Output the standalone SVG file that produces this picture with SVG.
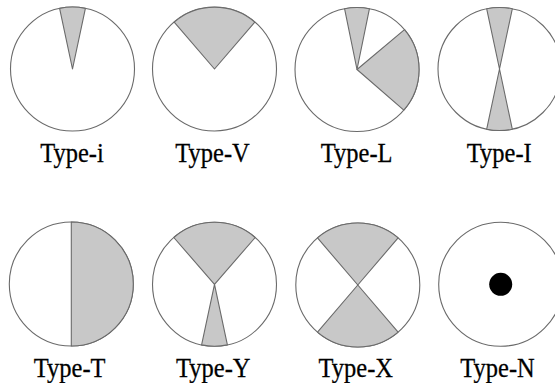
<svg xmlns="http://www.w3.org/2000/svg" width="555" height="383" viewBox="0 0 555 383">
<style>
.c{fill:#fff;stroke:#6a6a6a;stroke-width:1.1}
.w{fill:#c8c8c8;stroke:#6a6a6a;stroke-width:1.1;stroke-linejoin:round}
.l{font-family:'Liberation Serif','Times New Roman',serif;font-size:24.5px;fill:#000;stroke:#000;stroke-width:0.25;text-anchor:middle}
</style>
<rect width="555" height="383" fill="#fff"/>
<g id="type-i">
<circle class="c" cx="72.5" cy="69" r="62"/>
<path class="w" d="M72.5,69 L59.6,8.4 A62,62 0 0,1 85.4,8.4 Z"/>
<text class="l" transform="translate(72,161.5) scale(1,1.12)">Type-i</text>
</g>
<g id="type-V">
<circle class="c" cx="214.5" cy="69" r="62"/>
<path class="w" d="M214.5,69 L174.2,22.1 A62,62 0 0,1 254.8,22.1 Z"/>
<text class="l" transform="translate(212.5,161.5) scale(1,1.12)">Type-V</text>
</g>
<g id="type-L">
<circle class="c" cx="357" cy="69.5" r="62"/>
<path class="w" d="M357,69.5 L344.6,8.8 A62,62 0 0,1 369.4,8.8 Z"/>
<path class="w" d="M357,69.5 L404.5,29.6 A62,62 0 0,1 403.8,110.2 Z"/>
<text class="l" transform="translate(356.7,161.5) scale(1,1.12)">Type-L</text>
</g>
<g id="type-I">
<circle class="c" cx="499.5" cy="69" r="61.5"/>
<path class="w" d="M499.5,69 L486.7,8.8 A61.5,61.5 0 0,1 512.3,8.8 Z"/>
<path class="w" d="M499.5,69 L512.3,129.2 A61.5,61.5 0 0,1 486.7,129.2 Z"/>
<text class="l" transform="translate(499.3,161.5) scale(1,1.12)">Type-I</text>
</g>
<g id="type-T">
<circle class="c" cx="71.3" cy="284" r="62"/>
<path class="w" d="M71.3,222 A62,62 0 0,1 71.3,346 Z"/>
<text class="l" transform="translate(69.7,377) scale(1,1.12)">Type-T</text>
</g>
<g id="type-Y">
<circle class="c" cx="214.5" cy="284.3" r="62"/>
<path class="w" d="M214.5,284.3 L173.8,237.5 A62,62 0 0,1 255.2,237.5 Z"/>
<path class="w" d="M214.5,284.3 L227.4,344.9 A62,62 0 0,1 201.6,344.9 Z"/>
<text class="l" transform="translate(213.3,377) scale(1,1.12)">Type-Y</text>
</g>
<g id="type-X">
<circle class="c" cx="357.8" cy="285" r="62"/>
<path class="w" d="M357.8,285 L317.5,237.9 A62,62 0 0,1 398.1,237.9 Z"/>
<path class="w" d="M357.8,285 L398.1,332.1 A62,62 0 0,1 317.5,332.1 Z"/>
<text class="l" transform="translate(355.8,377) scale(1,1.12)">Type-X</text>
</g>
<g id="type-N">
<circle class="c" cx="500.7" cy="284.3" r="62"/>
<circle cx="500.7" cy="284.3" r="11.5" fill="#000"/>
<text class="l" transform="translate(497.5,377) scale(1,1.12)">Type-N</text>
</g>
</svg>
